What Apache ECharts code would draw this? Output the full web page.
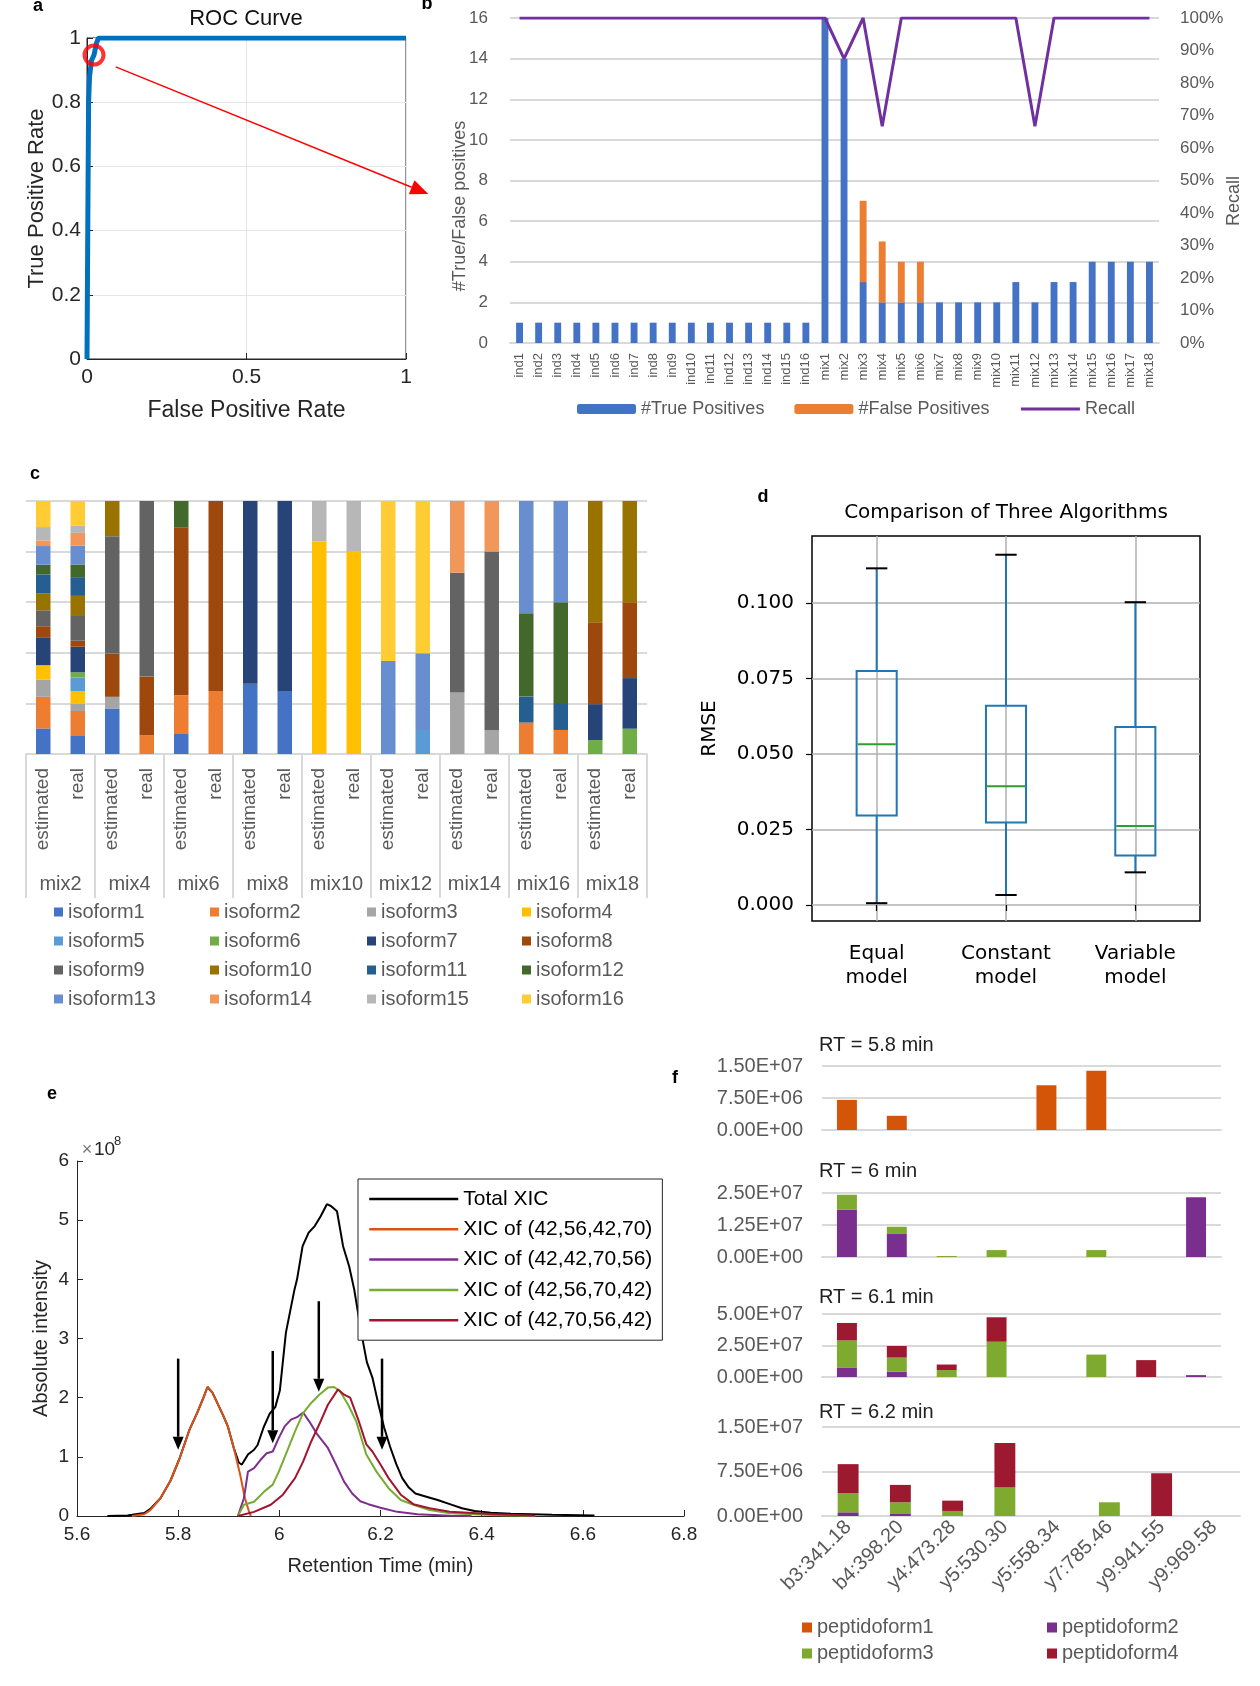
<!DOCTYPE html>
<html><head><meta charset="utf-8">
<script src="https://cdn.jsdelivr.net/npm/echarts@6/dist/echarts.min.js"></script>
<style>html,body{margin:0;padding:0;background:#fff}#c{width:1260px;height:1686px}</style>
</head><body><div id="c"></div><script>
// ===== DATA =====
// (a) ROC curve
const rocFPR = [0, 0.003, 0.005, 0.008, 0.014, 0.022, 0.03, 0.036, 1];
const rocTPR = [0, 0.5, 0.8, 0.88, 0.93, 0.947, 0.985, 1, 1];
const rocMarker = [0.022, 0.947];
const rocArrow = [0.09, 0.91, 1.07, 0.514];
// (b) true/false positives + recall
const samplesB = ['ind1','ind2','ind3','ind4','ind5','ind6','ind7','ind8','ind9','ind10','ind11','ind12','ind13','ind14','ind15','ind16',
  'mix1','mix2','mix3','mix4','mix5','mix6','mix7','mix8','mix9','mix10','mix11','mix12','mix13','mix14','mix15','mix16','mix17','mix18'];
const truePositives = [1,1,1,1,1,1,1,1,1,1,1,1,1,1,1,1, 16,14,3,2,2,2,2,2,2,2,3,2,3,3,4,4,4,4];
const falsePositives = [0,0,0,0,0,0,0,0,0,0,0,0,0,0,0,0, 0,0,4,3,2,2,0,0,0,0,0,0,0,0,0,0,0,0];
const recall = [1,1,1,1,1,1,1,1,1,1,1,1,1,1,1,1, 1,0.875,1,0.667,1,1,1,1,1,1,1,0.667,1,1,1,1,1,1];
// (c) isoform composition (%), index = isoform1..isoform16
const groupsC = ['mix2','mix4','mix6','mix8','mix10','mix12','mix14','mix16','mix18'];
const mix2Estimated  = [10.1,12.5,6.8,5.7,0,0,10.8,4.6,6.3,6.6,7.6,3.8,7.4,2.2,5.3,10.3];
const mix2Real       = [7.4,9.6,2.8,5.1,5.3,2.1,10.1,2.4,10.1,7.6,7.4,5.0,7.5,5.0,2.8,9.8];
const mix4Estimated  = [18,0,4.6,0,0,0,0,17.1,46.4,13.9,0,0,0,0,0,0];
const mix4Real       = [0,7.4,0,0,0,0,0,23.2,69.4,0,0,0,0,0,0,0];
const mix6Estimated  = [7.9,15.3,0,0,0,0,0,66.4,0,0,0,10.4,0,0,0,0];
const mix6Real       = [0,24.9,0,0,0,0,0,75.1,0,0,0,0,0,0,0,0];
const mix8Estimated  = [27.8,0,0,0,0,0,72.2,0,0,0,0,0,0,0,0,0];
const mix8Real       = [24.9,0,0,0,0,0,75.1,0,0,0,0,0,0,0,0,0];
const mix10Estimated = [0,0,0,84.1,0,0,0,0,0,0,0,0,0,0,15.9,0];
const mix10Real      = [0,0,0,80,0,0,0,0,0,0,0,0,0,0,20,0];
const mix12Estimated = [0,0,0,0,0,0,0,0,0,0,0,0,36.8,0,0,63.2];
const mix12Real      = [0,0,0,0,9.5,0,0,0,0,0,0,0,30.3,0,0,60.2];
const mix14Estimated = [0,0,24.3,0,0,0,0,0,47.3,0,0,0,0,28.4,0,0];
const mix14Real      = [0,0,9.5,0,0,0,0,0,70.5,0,0,0,0,20,0,0];
const mix16Estimated = [0,12.4,0,0,0,0,0,0,0,0,10.3,32.9,44.4,0,0,0];
const mix16Real      = [0,9.5,0,0,0,0,0,0,0,0,10.3,40.2,40,0,0,0];
const mix18Estimated = [0,0,0,0,0,5.5,14.2,32.4,0,47.9,0,0,0,0,0,0];
const mix18Real      = [0,0,0,0,0,10,20,30,0,40,0,0,0,0,0,0];
const isoformNames = ['isoform1','isoform2','isoform3','isoform4','isoform5','isoform6','isoform7','isoform8',
  'isoform9','isoform10','isoform11','isoform12','isoform13','isoform14','isoform15','isoform16'];
// (d) RMSE box plots
const modelNames = ['Equal\nmodel','Constant\nmodel','Variable\nmodel'];
const rmseLowerWhisker = [0.0006, 0.0033, 0.0108];
const rmseQ1 = [0.0296, 0.0273, 0.0164];
const rmseMedian = [0.0532, 0.0393, 0.0261];
const rmseQ3 = [0.0774, 0.0659, 0.0589];
const rmseUpperWhisker = [0.1114, 0.1159, 0.1002];
const rmseTicks = [0, 0.025, 0.05, 0.075, 0.1];
// (e) XIC curves: [retention time (min), intensity (x1e8)]
const totalXIC = [[5.66,0],[5.70,0.01],[5.709,0.02],[5.733,0.05],[5.745,0.12],[5.765,0.3],[5.785,0.6],[5.803,0.98],[5.822,1.45],[5.838,1.75],[5.850,2.0],[5.858,2.18],[5.868,2.08],[5.878,1.9],[5.890,1.68],[5.898,1.52],[5.910,1.15],[5.920,0.9],[5.926,0.87],[5.938,1.04],[5.95,1.12],[5.957,1.2],[5.969,1.5],[5.981,1.73],[5.992,1.84],[6.001,2.12],[6.013,3.1],[6.03,3.83],[6.035,4.0],[6.046,4.56],[6.058,4.79],[6.07,4.9],[6.082,5.07],[6.094,5.27],[6.102,5.24],[6.114,5.15],[6.126,4.56],[6.138,4.22],[6.148,3.83],[6.162,3.1],[6.173,2.6],[6.184,2.34],[6.195,1.92],[6.207,1.5],[6.219,1.17],[6.231,0.88],[6.243,0.64],[6.256,0.48],[6.269,0.38],[6.289,0.33],[6.313,0.27],[6.337,0.2],[6.361,0.13],[6.386,0.085],[6.418,0.057],[6.458,0.04],[6.539,0.023],[6.623,0.01]];
const xic42564270 = [[5.709,0],[5.733,0.03],[5.745,0.1],[5.765,0.3],[5.785,0.6],[5.803,0.98],[5.822,1.45],[5.838,1.75],[5.850,2.0],[5.858,2.18],[5.868,2.08],[5.878,1.9],[5.890,1.68],[5.898,1.52],[5.910,1.15],[5.922,0.72],[5.932,0.3],[5.941,0.05],[5.944,0]];
const xic42427056 = [[5.918,0],[5.93,0.3],[5.938,0.75],[5.95,0.81],[5.963,0.95],[5.975,1.06],[5.987,1.09],[5.999,1.32],[6.011,1.52],[6.023,1.63],[6.035,1.67],[6.047,1.75],[6.059,1.6],[6.075,1.38],[6.096,1.15],[6.112,0.87],[6.128,0.58],[6.144,0.38],[6.16,0.25],[6.176,0.2],[6.2,0.14],[6.233,0.07],[6.273,0.03],[6.337,0.006],[6.38,0]];
const xic42567042 = [[5.918,0],[5.93,0.19],[5.95,0.24],[5.971,0.42],[5.987,0.53],[5.999,0.75],[6.015,1.09],[6.031,1.43],[6.047,1.74],[6.063,1.91],[6.079,2.05],[6.096,2.17],[6.108,2.18],[6.12,2.11],[6.136,1.88],[6.152,1.6],[6.172,1.04],[6.192,0.75],[6.216,0.47],[6.24,0.27],[6.265,0.19],[6.297,0.1],[6.337,0.045],[6.418,0.017],[6.506,0]];
const xic42705642 = [[5.918,0],[5.95,0.07],[5.983,0.19],[6.007,0.36],[6.031,0.64],[6.047,0.92],[6.063,1.26],[6.079,1.55],[6.096,1.88],[6.116,2.14],[6.128,2.05],[6.14,2.0],[6.156,1.63],[6.172,1.21],[6.184,1.09],[6.2,0.87],[6.216,0.64],[6.24,0.36],[6.265,0.2],[6.297,0.13],[6.337,0.07],[6.418,0.034],[6.506,0.006]];
// arrows: [RT, top of arrow, tip of arrow] (x1e8)
const rtArrows = [[5.8,2.66,1.12],[5.987,2.79,1.23],[6.078,3.63,2.1],[6.203,2.66,1.12]];
// (f) fragment intensities
const fragments = ['b3:341.18','b4:398.20','y4:473.28','y5:530.30','y5:558.34','y7:785.46','y9:941.55','y9:969.58'];
const rt58Pf1 = [7.06e6,3.33e6,0,0,1.05e7,1.39e7,0,0];
const rt60Pf2 = [1.86e7,0.9e7,0,0,0,0,0,2.33e7];
const rt60Pf3 = [0.57e7,0.28e7,0.04e7,0.27e7,0,0.27e7,0,0];
const rt61Pf2 = [0.76e7,0.42e7,0,0,0,0,0,0.15e7];
const rt61Pf3 = [2.14e7,1.12e7,0.55e7,2.8e7,0,1.78e7,0,0];
const rt61Pf4 = [1.39e7,0.92e7,0.44e7,1.94e7,0,0,1.34e7,0];
const rt62Pf2 = [0.62e6,0.34e6,0,0,0,0,0,0];
const rt62Pf3 = [3.21e6,1.97e6,0.85e6,4.79e6,0,2.31e6,0,0];
const rt62Pf4 = [4.91e6,2.93e6,1.74e6,7.5e6,0,0,7.22e6,0];
const fAxisMax = [1.5e7, 2.5e7, 5e7, 1.5e7];
const fAxisStep = [7.5e6, 1.25e7, 2.5e7, 7.5e6];
const fTitles = ['RT = 5.8 min','RT = 6 min','RT = 6.1 min','RT = 6.2 min'];

// ===== STYLE =====
const FA = 'Liberation Sans, Arial, sans-serif';
const FD = 'DejaVu Sans, sans-serif';
const XL = '#595959', GL = '#d9d9d9', ML = '#262626';
const isoColors = ['#4472C4','#ED7D31','#A5A5A5','#FFC000','#5B9BD5','#70AD47','#264478','#9E480E',
  '#636363','#997300','#255E91','#43682B','#698ED0','#F1975A','#B7B7B7','#FFCD33'];
const pfColors = {peptidoform1:'#D45508', peptidoform2:'#7A2F8E', peptidoform3:'#7DAA2F', peptidoform4:'#9C1930'};

function sci(v){ if (v === 0) return '0.00E+00'; const e = Math.floor(Math.log10(Math.abs(v)) + 1e-9); const m = v / Math.pow(10, e); return m.toFixed(2) + 'E+' + String(e).padStart(2, '0'); }
function arrowParts(p0, p1, color, lw, hl, hw) {
  const dx = p1[0]-p0[0], dy = p1[1]-p0[1], L = Math.hypot(dx, dy), ux = dx/L, uy = dy/L;
  const bx = p1[0]-ux*hl, by = p1[1]-uy*hl, nx = -uy, ny = ux;
  return [
    {type:'line', shape:{x1:p0[0], y1:p0[1], x2:bx, y2:by}, style:{stroke:color, lineWidth:lw}},
    {type:'polygon', shape:{points:[[p1[0],p1[1]],[bx+nx*hw/2,by+ny*hw/2],[bx-nx*hw/2,by-ny*hw/2]]}, style:{fill:color}}
  ];
}

const grids = [
  {left:87, top:38, width:319, height:321, show:true, borderColor:ML, borderWidth:1},   // a
  {left:510, top:18, width:649, height:325},                                           // b
  {left:26, top:501, width:621, height:253},                                           // c
  {left:812, top:536, width:388, height:385, show:true, borderColor:'#000', borderWidth:1.5}, // d
  {left:77, top:1161, width:607, height:355},                                          // e
  {left:822, top:1066, width:399, height:64},                                          // f1
  {left:822, top:1193, width:399, height:64},                                          // f2
  {left:822, top:1314, width:399, height:63},                                          // f3
  {left:822, top:1427, width:418, height:89}                                           // f4
].map(g => Object.assign({outerBoundsMode:'none', containLabel:false}, g));

const xAxes = [
  // a
  {gridIndex:0, type:'value', min:0, max:1, interval:0.5,
   axisLine:{lineStyle:{color:ML}}, axisTick:{inside:true, length:6, lineStyle:{color:ML}},
   axisLabel:{color:ML, fontSize:21, fontFamily:FA, margin:8}, splitLine:{show:true, lineStyle:{color:'#e6e6e6'}},
   name:'False Positive Rate', nameLocation:'middle', nameGap:40, nameTextStyle:{color:ML, fontSize:23, fontFamily:FA}},
  // b
  {gridIndex:1, type:'category', data:samplesB, axisLine:{lineStyle:{color:GL, width:2}}, axisTick:{show:false},
   axisLabel:{rotate:90, interval:0, color:XL, fontSize:13, fontFamily:FA, margin:10}},
  // c (sample level)
  {gridIndex:2, type:'category', data:groupsC.flatMap(() => ['estimated','real']),
   axisLine:{lineStyle:{color:GL, width:2}}, axisTick:{show:false},
   axisLabel:{rotate:90, interval:0, color:XL, fontSize:19, fontFamily:FA, margin:14}},
  // c (group level)
  {gridIndex:2, type:'category', data:groupsC, position:'bottom', axisLine:{show:false},
   axisTick:{show:true, interval:0, length:144, lineStyle:{color:GL, width:2}},
   axisLabel:{interval:0, color:XL, fontSize:20, fontFamily:FA, margin:120}},
  // d
  {gridIndex:3, type:'value', min:0.5, max:3.5, axisLine:{show:false},
   axisTick:{show:true, customValues:[1,2,3], length:6, lineStyle:{color:'#000', width:1.2}},
   axisLabel:{customValues:[1,2,3], formatter:v => modelNames[Math.round(v)-1], color:'#000', fontSize:20, fontFamily:FD, lineHeight:24, margin:21},
   splitLine:{show:true, lineStyle:{color:'#b0b0b0', width:1.5}}},
  // e
  {gridIndex:4, type:'value', min:5.6, max:6.8, interval:0.2,
   axisLine:{lineStyle:{color:ML}}, axisTick:{inside:true, length:6, lineStyle:{color:ML}},
   axisLabel:{color:ML, fontSize:19, fontFamily:FA, margin:9, formatter:v => String(parseFloat(v.toFixed(1)))}, splitLine:{show:false},
   name:'Retention Time (min)', nameLocation:'middle', nameGap:40, nameTextStyle:{color:ML, fontSize:20, fontFamily:FA}}
];
for (let i = 0; i < 4; i++) {
  xAxes.push({gridIndex:5+i, type:'category', data:fragments, axisLine:{lineStyle:{color:GL, width:2}}, axisTick:{show:false},
    axisLabel:{show:i === 3, rotate:45, interval:0, color:XL, fontSize:20, fontFamily:FA, margin:8}});
}

const yAxes = [
  // a
  {gridIndex:0, type:'value', min:0, max:1, interval:0.2,
   axisLine:{lineStyle:{color:ML}}, axisTick:{inside:true, length:6, lineStyle:{color:ML}},
   axisLabel:{color:ML, fontSize:21, fontFamily:FA, margin:6}, splitLine:{show:true, lineStyle:{color:'#e6e6e6'}},
   name:'True Positive Rate', nameLocation:'middle', nameGap:38, nameTextStyle:{color:ML, fontSize:22, fontFamily:FA}},
  // b left
  {gridIndex:1, type:'value', min:0, max:16, interval:2, axisLine:{show:false}, axisTick:{show:false},
   axisLabel:{color:XL, fontSize:17, fontFamily:FA, margin:22}, splitLine:{lineStyle:{color:GL, width:2}}},
  // b right
  {gridIndex:1, type:'value', min:0, max:1, interval:0.1, position:'right', axisLine:{show:false}, axisTick:{show:false},
   axisLabel:{color:XL, fontSize:17, fontFamily:FA, margin:21, formatter:v => Math.round(v*100) + '%'}, splitLine:{show:false}},
  // c
  {gridIndex:2, type:'value', min:0, max:100, interval:20, axisLine:{show:false}, axisTick:{show:false},
   axisLabel:{show:false}, splitLine:{lineStyle:{color:GL, width:2}}},
  // d
  {gridIndex:3, type:'value', min:-0.0053, max:0.1221, axisLine:{show:false},
   axisTick:{show:true, customValues:rmseTicks, length:6, lineStyle:{color:'#000', width:1.2}},
   axisLabel:{customValues:rmseTicks, formatter:v => v.toFixed(3), color:'#000', fontSize:20, fontFamily:FD, margin:18},
   splitLine:{show:true, lineStyle:{color:'#b0b0b0', width:1.5}},
   name:'RMSE', nameLocation:'middle', nameGap:92, nameTextStyle:{color:'#000', fontSize:20, fontFamily:FD}},
  // e
  {gridIndex:4, type:'value', min:0, max:6, interval:1,
   axisLine:{lineStyle:{color:ML}}, axisTick:{inside:true, length:6, lineStyle:{color:ML}},
   axisLabel:{color:ML, fontSize:19, fontFamily:FA, margin:8}, splitLine:{show:false},
   name:'Absolute intensity', nameLocation:'middle', nameGap:26, nameTextStyle:{color:ML, fontSize:20, fontFamily:FA}}
];
for (let i = 0; i < 4; i++) {
  yAxes.push({gridIndex:5+i, type:'value', min:0, max:fAxisMax[i], interval:fAxisStep[i], axisLine:{show:false}, axisTick:{show:false},
    axisLabel:{color:XL, fontSize:20, fontFamily:FA, margin:19, formatter:sci}, splitLine:{lineStyle:{color:GL, width:2}}});
}

const series = [];
// a
series.push({type:'line', name:'ROC', xAxisIndex:0, yAxisIndex:0, data:rocFPR.map((x,i) => [x, rocTPR[i]]),
  symbol:'none', lineStyle:{color:'#0072BD', width:5}, z:3});
series.push({type:'scatter', name:'ROC point', xAxisIndex:0, yAxisIndex:0, data:[rocMarker], symbol:'circle', symbolSize:19,
  itemStyle:{color:'rgba(0,0,0,0)', borderColor:'#ff0000', borderWidth:4}, z:5});
series.push({type:'custom', name:'ROC arrow', xAxisIndex:0, yAxisIndex:0, data:[rocArrow], clip:false, z:6,
  renderItem:(p, api) => ({type:'group', children:arrowParts(api.coord([api.value(0), api.value(1)]), api.coord([api.value(2), api.value(3)]), '#ff0000', 1.5, 18, 15)})});
// b
series.push({type:'bar', name:'#True Positives', xAxisIndex:1, yAxisIndex:1, stack:'b', barWidth:'36%', data:truePositives, itemStyle:{color:'#4472C4'}});
series.push({type:'bar', name:'#False Positives', xAxisIndex:1, yAxisIndex:1, stack:'b', barWidth:'36%', data:falsePositives, itemStyle:{color:'#ED7D31'}});
series.push({type:'line', name:'Recall', xAxisIndex:1, yAxisIndex:2, data:recall, symbol:'none', lineStyle:{color:'#7030A0', width:3}, itemStyle:{color:'#7030A0'}});
// c
const barsC = [mix2Estimated, mix2Real, mix4Estimated, mix4Real, mix6Estimated, mix6Real, mix8Estimated, mix8Real,
  mix10Estimated, mix10Real, mix12Estimated, mix12Real, mix14Estimated, mix14Real, mix16Estimated, mix16Real, mix18Estimated, mix18Real];
isoformNames.forEach((n, i) => series.push({type:'bar', name:n, xAxisIndex:2, yAxisIndex:3, stack:'c', barWidth:'42%',
  itemStyle:{color:isoColors[i]}, data:barsC.map(b => b[i])}));
// d
series.push({type:'custom', name:'RMSE', xAxisIndex:4, yAxisIndex:4,
  data:modelNames.map((n, i) => [i+1, rmseLowerWhisker[i], rmseQ1[i], rmseMedian[i], rmseQ3[i], rmseUpperWhisker[i]]),
  encode:{x:0, y:[1,2,3,4,5]},
  renderItem:(p, api) => {
    const x = api.value(0);
    const pt = [1,2,3,4,5].map(k => api.coord([x, api.value(k)]));
    const cx = pt[0][0], bw = api.size([0.31, 0])[0], cw = api.size([0.165, 0])[0];
    const blue = '#1f77b4';
    return {type:'group', children:[
      {type:'line', shape:{x1:cx, y1:pt[0][1], x2:cx, y2:pt[1][1]}, style:{stroke:blue, lineWidth:2}},
      {type:'line', shape:{x1:cx, y1:pt[3][1], x2:cx, y2:pt[4][1]}, style:{stroke:blue, lineWidth:2}},
      {type:'rect', shape:{x:cx-bw/2, y:pt[3][1], width:bw, height:pt[1][1]-pt[3][1]}, style:{fill:'none', stroke:blue, lineWidth:2}},
      {type:'line', shape:{x1:cx-bw/2+1, y1:pt[2][1], x2:cx+bw/2-1, y2:pt[2][1]}, style:{stroke:'#2ca02c', lineWidth:2}},
      {type:'line', shape:{x1:cx-cw/2, y1:pt[0][1], x2:cx+cw/2, y2:pt[0][1]}, style:{stroke:'#000', lineWidth:2}},
      {type:'line', shape:{x1:cx-cw/2, y1:pt[4][1], x2:cx+cw/2, y2:pt[4][1]}, style:{stroke:'#000', lineWidth:2}}
    ]};
  }});
// e
const eCurves = [['Total XIC', totalXIC, '#000000'], ['XIC of (42,56,42,70)', xic42564270, '#D95319'],
  ['XIC of (42,42,70,56)', xic42427056, '#7E2F8E'], ['XIC of (42,56,70,42)', xic42567042, '#77AC30'], ['XIC of (42,70,56,42)', xic42705642, '#A2142F']];
eCurves.forEach(c => series.push({type:'line', name:c[0], xAxisIndex:5, yAxisIndex:5, data:c[1], symbol:'none',
  lineStyle:{color:c[2], width:2}, itemStyle:{color:c[2]}}));
series.push({type:'custom', name:'arrows', xAxisIndex:5, yAxisIndex:5, data:rtArrows, clip:false, z:6,
  renderItem:(p, api) => ({type:'group', children:arrowParts(api.coord([api.value(0), api.value(1)]), api.coord([api.value(0), api.value(2)]), '#000', 2.5, 13, 11)})});
// f
const fStacks = [[['peptidoform1', rt58Pf1]], [['peptidoform2', rt60Pf2], ['peptidoform3', rt60Pf3]],
  [['peptidoform2', rt61Pf2], ['peptidoform3', rt61Pf3], ['peptidoform4', rt61Pf4]],
  [['peptidoform2', rt62Pf2], ['peptidoform3', rt62Pf3], ['peptidoform4', rt62Pf4]]];
fStacks.forEach((st, i) => st.forEach(s => series.push({type:'bar', name:s[0], xAxisIndex:6+i, yAxisIndex:6+i, stack:'f'+i,
  barWidth:'40%', data:s[1], itemStyle:{color:pfColors[s[0]]}})));

const noSym = {opacity:0};
const legends = [
  {data:['#True Positives','#False Positives',{name:'Recall', itemStyle:noSym, lineStyle:{width:3, color:'#7030A0'}}],
   left:577, top:400, padding:0, itemWidth:59, itemHeight:10, itemGap:30,
   textStyle:{color:XL, fontSize:18, fontFamily:FA}, selectedMode:false},
  {data:['Total XIC','XIC of (42,56,42,70)','XIC of (42,42,70,56)','XIC of (42,56,70,42)','XIC of (42,70,56,42)'].map((n, i) => ({name:n, itemStyle:noSym, lineStyle:{width:2.5, color:eCurves[i][2]}})),
   orient:'vertical', left:358, top:1179, padding:[9,10,9,10], itemWidth:89, itemHeight:14, itemGap:8.3,
   backgroundColor:'#fff', borderColor:ML, borderWidth:1, textStyle:{color:'#000', fontSize:21, fontFamily:FA, lineHeight:22}, selectedMode:false},
  {data:['peptidoform1','peptidoform3'], orient:'vertical', left:802, top:1617, padding:0, itemWidth:10, itemHeight:10, itemGap:5, icon:'rect',
   textStyle:{color:XL, fontSize:20, fontFamily:FA, lineHeight:21}, selectedMode:false},
  {data:['peptidoform2','peptidoform4'], orient:'vertical', left:1047, top:1617, padding:0, itemWidth:10, itemHeight:10, itemGap:5, icon:'rect',
   textStyle:{color:XL, fontSize:20, fontFamily:FA, lineHeight:21}, selectedMode:false}
];
const cCols = [54, 210, 367, 522];
cCols.forEach((x, k) => legends.push({data:[0,1,2,3].map(r => isoformNames[r*4+k]), orient:'vertical', left:x, top:902, padding:0,
  itemWidth:9, itemHeight:9, itemGap:9, icon:'rect', textStyle:{color:XL, fontSize:20, fontFamily:FA, lineHeight:20}, selectedMode:false}));

function txt(x, y, s, o) { return {type:'text', x:x, y:y, style:Object.assign({text:s, fill:'#000', fontFamily:FA, fontSize:18, align:'left', verticalAlign:'middle'}, o || {})}; }
const graphic = [
  txt(38, 6, 'a', {fontWeight:'bold', align:'center'}),
  txt(427, 4, 'b', {fontWeight:'bold', align:'center'}),
  txt(35, 474, 'c', {fontWeight:'bold', align:'center'}),
  txt(763, 497, 'd', {fontWeight:'bold', align:'center'}),
  txt(52, 1094, 'e', {fontWeight:'bold', align:'center'}),
  txt(675, 1078, 'f', {fontWeight:'bold', align:'center'}),
  txt(246, 19, 'ROC Curve', {align:'center', fontSize:22, fill:'#111'}),
  txt(1006, 513, 'Comparison of Three Algorithms', {align:'center', fontSize:20, fontFamily:FD}),
  Object.assign(txt(460, 206, '#True/False positives', {align:'center', fontSize:18, fill:XL}), {rotation:Math.PI/2}),
  Object.assign(txt(1234, 201, 'Recall', {align:'center', fontSize:18, fill:XL}), {rotation:Math.PI/2}),
  txt(87, 1150, '×', {align:'center', fontSize:18, fill:'#777'}),
  txt(94, 1150, '10', {fontSize:19, fill:ML}),
  txt(114, 1141, '8', {fontSize:13, fill:ML})
];
fTitles.forEach((t, i) => graphic.push(txt(819, [1045, 1171, 1297, 1412][i], t, {fontSize:20, fill:'#222'})));

const chart = echarts.init(document.getElementById('c'), null, {width:1260, height:1686});
chart.setOption({animation:false, backgroundColor:'#fff', grid:grids, xAxis:xAxes, yAxis:yAxes, series:series, legend:legends, graphic:graphic});
</script></body></html>
